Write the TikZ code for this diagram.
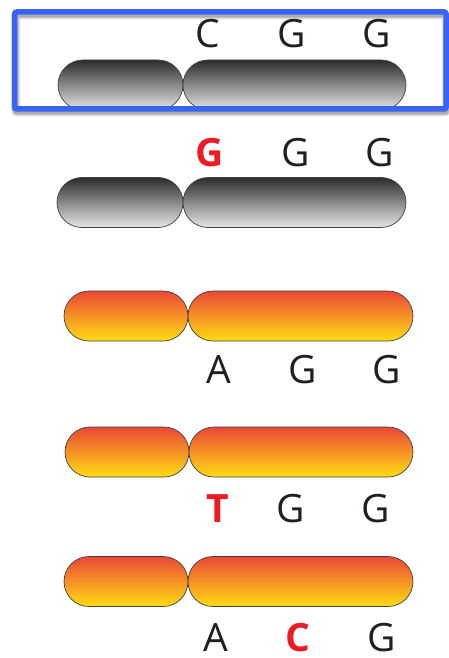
\documentclass[tikz,border=0pt]{standalone}
\usepackage{fontspec}
\setmainfont{Open Sans}
\definecolor{txt}{HTML}{231F20}
\definecolor{redl}{HTML}{ED1C24}
\definecolor{bluebox}{HTML}{3A63F5}
\definecolor{gtop}{HTML}{2C2C2C}
\definecolor{gmid}{HTML}{858585}
\definecolor{gbot}{HTML}{E6E6E6}
\definecolor{otop}{HTML}{EA4836}
\definecolor{omid}{HTML}{F4A03A}
\definecolor{obot}{HTML}{FFDC14}
\tikzset{
  pill/.style={draw=black!75, line width=0.7pt, rounded corners=25pt, minimum height=50pt, inner sep=0pt, outer sep=0pt},
  graypill/.style={pill, top color=gtop, middle color=gmid, bottom color=gbot},
  orangepill/.style={pill, top color=otop, middle color=omid, bottom color=obot},
  base/.style={anchor=base, inner sep=0pt, font=\fontsize{39}{39}\selectfont, text=txt},
  mut/.style={base, font=\fontsize{39}{39}\selectfont\bfseries, text=redl},
}
\begin{document}
\begin{tikzpicture}[x=1pt,y=-1pt]
\useasboundingbox (0,0) rectangle (449,658);
% shadow of the blue frame
\foreach \o/\w in {0.10/9, 0.12/7, 0.14/5}
  \draw[black, opacity=\o, line width=\w pt, rounded corners=2pt] (15.5,15) rectangle (446.5,112);
% row 1
\node[graypill, minimum width=125pt] (l1) at (120.5,85) {};
\node[graypill, minimum width=223pt] (r1) at (294.5,85) {};
\node[base] (t1a) at (208,48) {C};
\node[base] (t1b) at (292,48) {G};
\node[base] (t1c) at (377,48) {G};
% blue frame
\draw[bluebox, line width=5.5pt, rounded corners=2pt] (14.7,12) rectangle (446,109);
% row 2
\node[graypill, minimum width=126pt] (l2) at (120,202.5) {};
\node[graypill, minimum width=223pt] (r2) at (294.5,202.5) {};
\node[mut] (t2a) at (210,166) {G};
\node[base] (t2b) at (296,166) {G};
\node[base] (t2c) at (380,166) {G};
% row 3
\node[orangepill, minimum width=124pt] (l3) at (126,316) {};
\node[orangepill, minimum width=225pt] (r3) at (300.5,316) {};
\node[base] (t3a) at (219,383) {A};
\node[base] (t3b) at (303,383) {G};
\node[base] (t3c) at (387,383) {G};
% row 4
\node[orangepill, minimum width=124pt] (l4) at (127,452) {};
\node[orangepill, minimum width=224pt] (r4) at (301,452) {};
\node[mut] (t4a) at (218,522.5) {T};
\node[base] (t4b) at (291,522.5) {G};
\node[base] (t4c) at (376,522.5) {G};
% row 5
\node[orangepill, minimum width=124pt] (l5) at (126,581.5) {};
\node[orangepill, minimum width=225pt] (r5) at (300.5,581.5) {};
\node[base] (t5a) at (216,651.5) {A};
\node[mut] (t5b) at (298,651.5) {C};
\node[base] (t5c) at (382,651.5) {G};
\end{tikzpicture}
\end{document}
